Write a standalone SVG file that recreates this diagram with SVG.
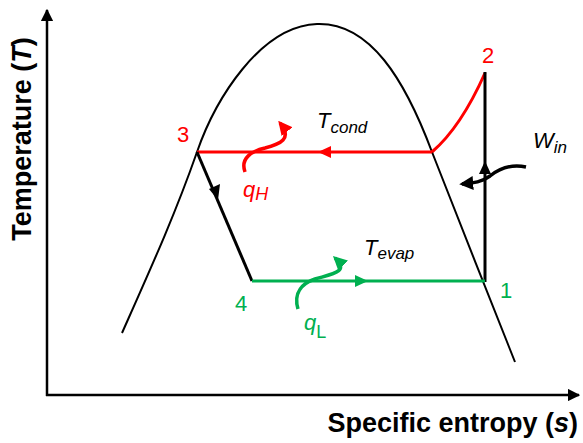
<svg xmlns="http://www.w3.org/2000/svg" width="583" height="443" viewBox="0 0 583 443">
<defs>
<marker id="ah" viewBox="0 0 10 10" refX="9" refY="5" markerWidth="5" markerHeight="5" orient="auto" markerUnits="strokeWidth"><path d="M0,0 L10,5 L0,10 z" fill="#000"/></marker>
<marker id="ahr" viewBox="0 0 10 10" refX="8" refY="5" markerWidth="4" markerHeight="4" orient="auto" markerUnits="strokeWidth"><path d="M0,0 L10,5 L0,10 z" fill="#ff0000"/></marker>
<marker id="ahg" viewBox="0 0 10 10" refX="8" refY="5" markerWidth="4" markerHeight="4" orient="auto" markerUnits="strokeWidth"><path d="M0,0 L10,5 L0,10 z" fill="#00b050"/></marker>
<marker id="ahk" viewBox="0 0 10 10" refX="8" refY="5" markerWidth="4" markerHeight="4" orient="auto" markerUnits="strokeWidth"><path d="M0,0 L10,5 L0,10 z" fill="#000"/></marker>
</defs>
<style>
.t{font-family:"Liberation Sans",Arial,sans-serif;font-size:22px}
.ax{font-size:27px;font-weight:bold}
.i{font-style:italic}
.red{fill:#ff0000}
.grn{fill:#00b050}
.ln{fill:none;stroke-width:3}
</style>
<rect width="583" height="443" fill="#fff"/>
<g id="axes" fill="none" stroke="#000" stroke-width="2.5">
<path d="M47,396 L47,10" marker-end="url(#ah)"/>
<path d="M46,395 L579,395" marker-end="url(#ah)"/>
</g>
<g id="dome">
<path d="M122,333 C150,270 175,215 197,152 C215,100 260,26 317,24 C370,22 405,80 432,152 C455,210 490,300 515,362" fill="none" stroke="#000" stroke-width="2"/>
</g>
<g id="connectors">
<path class="ln" d="M432,152 L197,152" stroke="#ff0000"/>
<path d="M331,146 L318,152 L331,158 z" fill="#ff0000"/>
<path class="ln" d="M432,152 Q461,127 485,73" stroke="#ff0000"/>
<path class="ln" d="M485,282 L485,72" stroke="#000"/>
<path d="M479,174 L485,161 L491,174 z" fill="#000"/>
<path class="ln" d="M197,152 L252,281" stroke="#000"/>
<path d="M209,189 L218,200 L220,184 z" fill="#000"/>
<path class="ln" d="M252,281 L485,281" stroke="#00b050"/>
<path d="M355,275 L368,281 L355,287 z" fill="#00b050"/>
<path d="M245,172 C240,158 252,151 265,148 C280,144 293,139 280,123" fill="none" stroke="#ff0000" stroke-width="3.5" marker-end="url(#ahr)"/>
<path d="M298,309 C293,292 303,283 315,279 C332,274 350,272 335,258" fill="none" stroke="#00b050" stroke-width="3.5" marker-end="url(#ahg)"/>
<path d="M526,167 C512,164 500,168 490,176 C482,182 474,183 462,184" fill="none" stroke="#000" stroke-width="3.5" marker-end="url(#ahk)"/>
</g>
<g id="labels">
<text class="t red" x="177" y="142">3</text>
<text class="t red" x="482" y="63">2</text>
<text class="t grn" x="500" y="298">1</text>
<text class="t grn" x="235" y="311">4</text>
<text class="t i" x="317" y="128">T<tspan font-size="17" dy="5">cond</tspan></text>
<text class="t i" x="364" y="255">T<tspan font-size="17" dy="4">evap</tspan></text>
<text class="t i" x="533" y="148">W<tspan font-size="17" dy="5">in</tspan></text>
<text class="t i red" x="243" y="197">q<tspan font-size="18" dy="3">H</tspan></text>
<text class="t i grn" x="304" y="330">q<tspan font-size="18" dy="8" font-style="normal">L</tspan></text>
<text class="t ax" transform="translate(31,139) rotate(-90)" text-anchor="middle" font-size="28">Temperature (<tspan class="i">T</tspan>)</text>
<text class="t ax" x="578" y="432" text-anchor="end">Specific entropy (<tspan class="i">s</tspan>)</text>
</g>
</svg>
